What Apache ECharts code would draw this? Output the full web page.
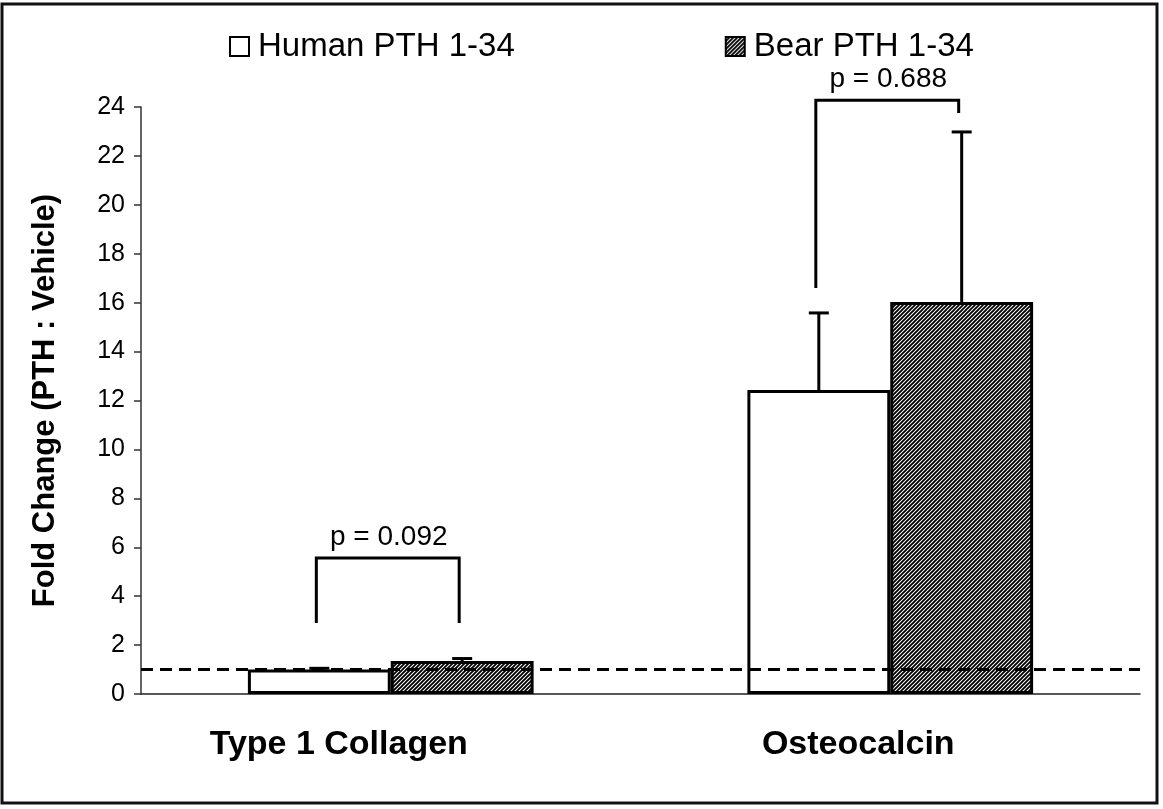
<!DOCTYPE html>
<html>
<head>
<meta charset="utf-8">
<script src="https://cdn.jsdelivr.net/npm/echarts@6/dist/echarts.min.js"></script>
<style>
  html, body { margin: 0; padding: 0; background: #fff; }
  #chart { width: 1163px; height: 809px; }
</style>
</head>
<body>
<div id="chart"></div>
<script>
// data
var categories = ['Type 1 Collagen', 'Osteocalcin'];
var humanMean = [1.0, 12.43];
var bearMean = [1.35, 16.03];
var humanTop = [1.05, 15.58];   // top of error bar
var bearTop = [1.45, 22.98];
var pLabels = ['p = 0.092', 'p = 0.688'];
var bracketLeftLow = [2.9, 16.6];
var bracketRightLow = [2.9, 23.75];
var bracketHigh = [5.56, 24.28];
var yTicks = [0, 24, 2];   // min, max, interval

var BAR_PCT = 0.286;
var FONT = 'Liberation Sans, Arial, sans-serif';
// labels sit a bit left of their bars in the original
var labelShift = [104, 64];

// hatch pattern for the bear bars
function makeHatch() {
  var c = document.createElement('canvas');
  c.width = 4; c.height = 4;
  var ctx = c.getContext('2d');
  ctx.fillStyle = '#ffffff';
  ctx.fillRect(0, 0, 4, 4);
  ctx.strokeStyle = '#000000';
  ctx.lineWidth = 1.9;
  ctx.beginPath();
  ctx.moveTo(-1, 5); ctx.lineTo(5, -1);
  ctx.moveTo(-1, 1); ctx.lineTo(1, -1);
  ctx.moveTo(3, 5); ctx.lineTo(5, 3);
  ctx.stroke();
  return c;
}
var hatch = { image: makeHatch(), repeat: 'repeat' };

var errData = [];
for (var i = 0; i < categories.length; i++) {
  errData.push([i, humanMean[i], humanTop[i], -1]);
  errData.push([i, bearMean[i], bearTop[i], 1]);
}
var bracketData = [];
for (var j = 0; j < categories.length; j++) {
  bracketData.push([j, bracketLeftLow[j], bracketRightLow[j], bracketHigh[j], pLabels[j]]);
}
var catData = categories.map(function (c, k) {
  return { value: c, textStyle: { padding: [0, labelShift[k], 0, 0] } };
});

function barOffset(api) {
  return api.size([1, 0])[0] * BAR_PCT / 2;
}

var chart = echarts.init(document.getElementById('chart'));
var option = {
  animation: false,
  backgroundColor: '#ffffff',
  textStyle: { fontFamily: FONT, color: '#000' },
  graphic: [{
    type: 'rect',
    shape: { x: 2, y: 4, width: 1155, height: 799 },
    style: { fill: 'none', stroke: '#111', lineWidth: 3 },
    z: 100
  }],
  legend: {
    left: 224,
    top: 25,
    icon: 'rect',
    itemWidth: 19,
    itemHeight: 19,
    itemGap: 210,
    itemStyle: { borderColor: '#000', borderWidth: 2 },
    textStyle: { fontSize: 33, color: '#000', fontFamily: FONT, padding: [0, 0, 0, 4] },
    data: ['Human PTH 1-34', 'Bear PTH 1-34']
  },
  grid: { left: 141, right: 23, top: 107, bottom: 115 },
  xAxis: {
    type: 'category',
    data: catData,
    axisLine: { lineStyle: { color: '#222', width: 1.5 } },
    axisTick: { show: false },
    axisLabel: { fontSize: 34, fontWeight: 'bold', color: '#000', margin: 34 }
  },
  yAxis: {
    type: 'value',
    min: yTicks[0],
    max: yTicks[1],
    interval: yTicks[2],
    name: 'Fold Change (PTH : Vehicle)',
    nameLocation: 'middle',
    nameGap: 80,
    nameTextStyle: { fontSize: 31, fontWeight: 'bold', color: '#000' },
    axisLine: { show: true, lineStyle: { color: '#333', width: 1.5 } },
    axisTick: { show: true, length: 7, lineStyle: { color: '#333', width: 1.5 } },
    axisLabel: { fontSize: 25, color: '#000', margin: 16 },
    splitLine: { show: false }
  },
  series: [{
    name: 'Human PTH 1-34',
    type: 'bar',
    data: humanMean,
    barWidth: (BAR_PCT * 100) + '%',
    barGap: '0%',
    itemStyle: { color: '#ffffff', borderColor: '#000', borderWidth: 3 },
    markLine: {
      silent: true,
      symbol: 'none',
      label: { show: false },
      lineStyle: { color: '#000', type: [12, 7], width: 3 },
      data: [{ yAxis: 1 }],
      z: 10
    }
  }, {
    name: 'Bear PTH 1-34',
    type: 'bar',
    data: bearMean,
    barWidth: (BAR_PCT * 100) + '%',
    barGap: '0%',
    itemStyle: { color: hatch, borderColor: '#000', borderWidth: 3 }
  }, {
    type: 'custom',
    name: 'err',
    clip: false,
    z: 5,
    data: errData,
    renderItem: function (params, api) {
      var off = barOffset(api) * api.value(3);
      var p0 = api.coord([api.value(0), api.value(1)]);
      var p1 = api.coord([api.value(0), api.value(2)]);
      var x = p0[0] + off;
      var st = { stroke: '#000', lineWidth: 3 };
      return {
        type: 'group',
        children: [
          { type: 'line', shape: { x1: x, y1: p0[1], x2: x, y2: p1[1] }, style: st },
          { type: 'line', shape: { x1: x - 10, y1: p1[1], x2: x + 10, y2: p1[1] }, style: st }
        ]
      };
    }
  }, {
    type: 'custom',
    name: 'bracket',
    clip: false,
    z: 5,
    data: bracketData,
    renderItem: function (params, api) {
      var off = barOffset(api);
      var c = api.value(0);
      var pl = api.coord([c, api.value(1)]);
      var pr = api.coord([c, api.value(2)]);
      var ph = api.coord([c, api.value(3)]);
      var xl = pl[0] - off - 3, xr = pl[0] + off - 3;
      return {
        type: 'group',
        children: [
          { type: 'polyline', shape: { points: [[xl, pl[1]], [xl, ph[1]], [xr, ph[1]], [xr, pr[1]]] }, style: { stroke: '#000', lineWidth: 3, fill: 'none' } },
          { type: 'text', style: { text: bracketData[params.dataIndex][4], x: (xl + xr) / 2 + 1, y: ph[1] - 7, align: 'center', verticalAlign: 'bottom', fontSize: 28, fill: '#000', fontFamily: FONT } }
        ]
      };
    }
  }]
};
chart.setOption(option);
</script>
</body>
</html>
